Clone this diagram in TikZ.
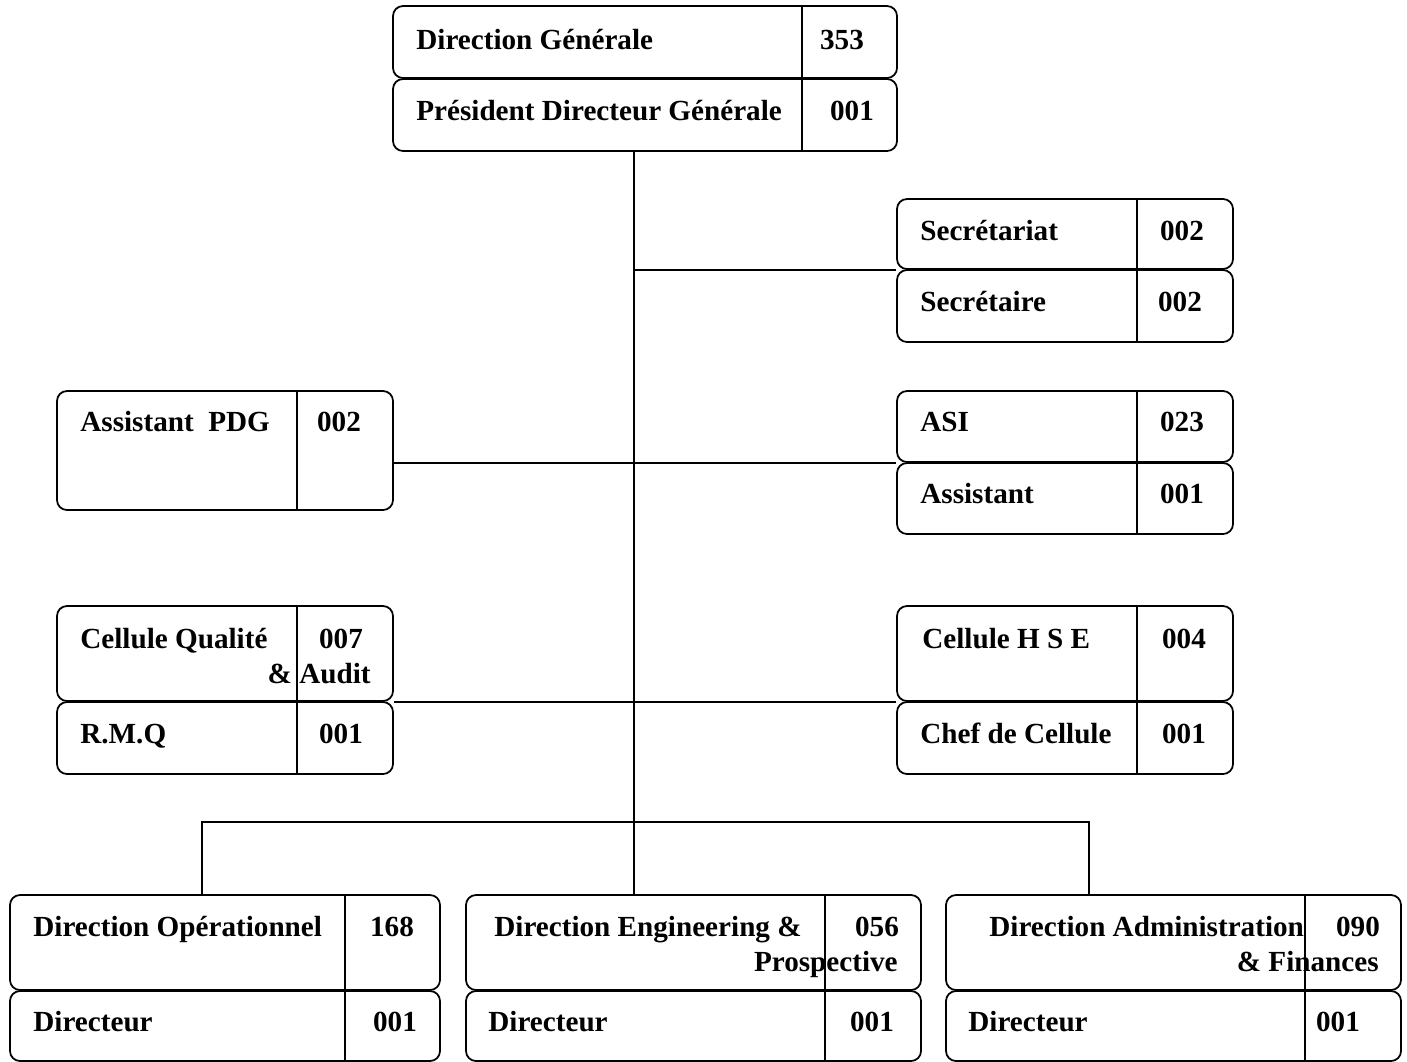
\documentclass[tikz,border=0pt]{standalone}
\usepackage{fontspec}
\setmainfont{Liberation Serif}
\usetikzlibrary{fit,positioning}

\begin{document}
\begin{tikzpicture}[x=0.02cm, y=-0.02cm,
    every node/.style={font=\fontsize{16.6}{19}\selectfont\bfseries},
    cellbox/.style={draw, line width=1pt, rounded corners=0.2cm, inner sep=0pt},
    sepline/.style={line width=1pt},
    link/.style={line width=0.8pt},
    lbl/.style={anchor=base west, inner sep=0pt},
    lblr/.style={anchor=base east, inner sep=0pt},
    num/.style={anchor=base, inner sep=0pt}]
  \useasboundingbox (0,0) rectangle (1407,1062);
  % boxes
  \foreach \n/\xa/\ya/\xb/\yb in {dgA/393/6/897/78, dgB/393/79/897/151,
      secA/897/199/1233/269, secB/897/270/1233/342,
      asiA/897/391/1233/462, asiB/897/463/1233/534,
      apdg/57/391/393/510,
      cqA/57/606/393/701, cqB/57/702/393/774,
      hseA/897/606/1233/701, hseB/897/702/1233/774,
      dopA/10/895/440/990, dopB/10/991/440/1061,
      dengA/466/895/921/990, dengB/466/991/921/1061,
      dafA/946/895/1401/990, dafB/946/991/1401/1061}{
    \node[cellbox, fit={(\xa,\ya) (\xb,\yb)}] (\n) {};
  }
  % column dividers
  \foreach \x/\ya/\yb in {802/6/151, 1137/199/342, 1137/391/534, 297/391/510,
      297/606/774, 1137/606/774, 345/895/1061, 825/895/1061, 1305/895/1061}{
    \draw[sepline] (\x,\ya) -- (\x,\yb);
  }
  % labels
  \foreach \n/\x/\y/\txt in {t1/416/49/Direction Générale, t2/416/120/Président Directeur Générale,
      t3/920/240/Secrétariat, t4/920/311/Secrétaire, t5/920/431/ASI, t6/920/503/Assistant,
      t7/80/431/Assistant~ PDG, t8/80/648/Cellule Qualité, t9/80/743/R.M.Q,
      t10/922/648/Cellule H S E, t11/920/743/Chef de Cellule,
      t12/33/936/Direction Opérationnel, t13/33/1031/Directeur,
      t14/494/936/Direction Engineering \&, t15/488/1031/Directeur,
      t16/989/936/Direction Administration, t17/968/1031/Directeur}{
    \node[lbl] (\n) at (\x,\y) {\txt};
  }
  \foreach \n/\x/\y/\txt in {t8b/371/683/\& Audit, t14b/898/971/Prospective, t16b/1379/971/\& Finances}{
    \node[lblr] (\n) at (\x,\y) {\txt};
  }
  \foreach \n/\x/\y/\txt in {n1/842/49/353, n2/852/120/001, n3/1182/240/002, n4/1180/311/002,
      n5/1182/431/023, n6/1182/503/001, n7/339/431/002, n8/341/648/007, n9/341/743/001,
      n10/1184/648/004, n11/1184/743/001, n12/392/936/168, n13/395/1031/001,
      n14/877/936/056, n15/872/1031/001, n16/1358/936/090, n17/1338/1031/001}{
    \node[num] (\n) at (\x,\y) {\txt};
  }
  % connectors
  \coordinate (trunk) at (634,151);
  \coordinate (busL) at (202,822);
  \coordinate (busR) at (1089,822);
  \draw[link] (trunk) -- (trunk |- dengA.north);
  \draw[link] (secA.south west) -- (secA.south west -| trunk);
  \draw[link] (asiA.south west) -- (asiA.south west -| apdg.east);
  \draw[link] (hseA.south west) -- (cqA.south east);
  \draw[link] (busL |- dopA.north) -- (busL) -- (busR) -- (busR |- dafA.north);
\end{tikzpicture}
\end{document}
